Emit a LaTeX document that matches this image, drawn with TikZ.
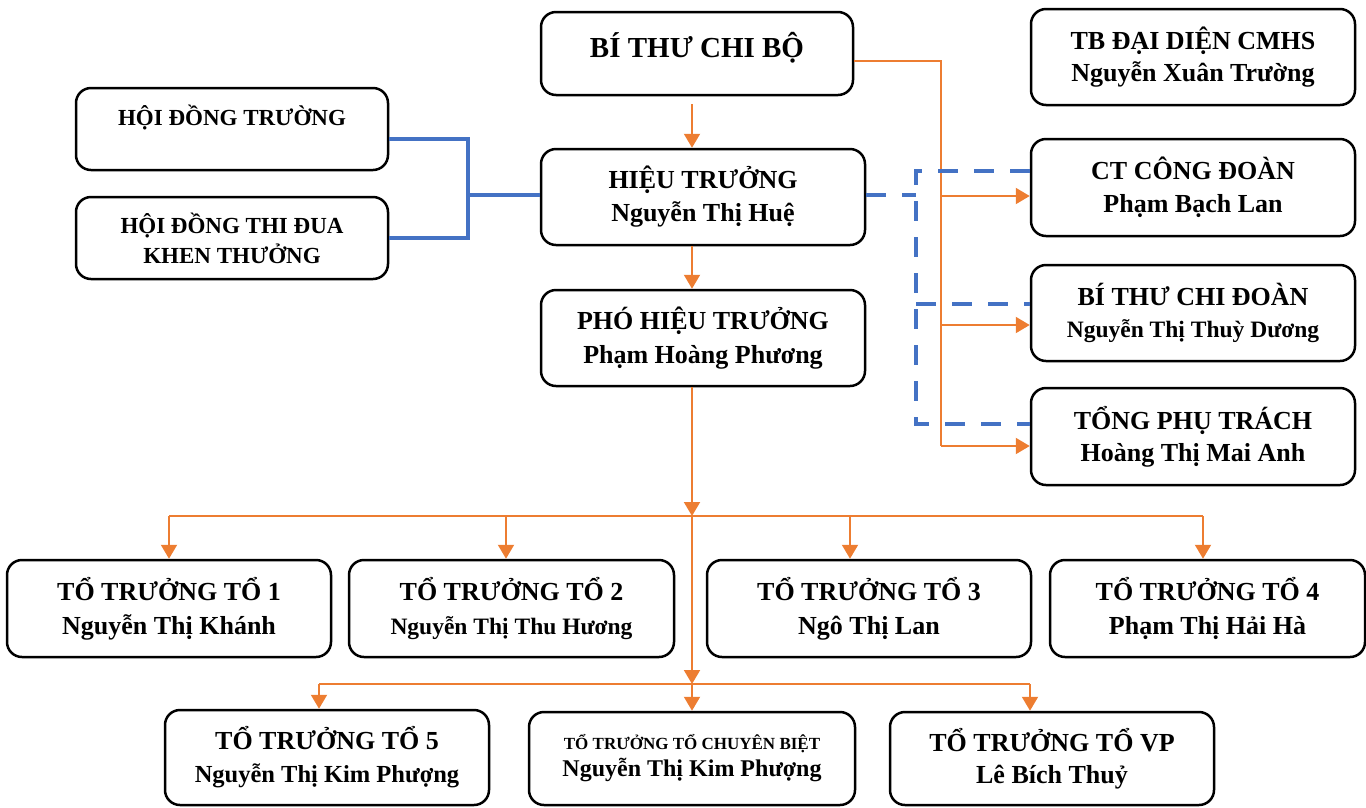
\documentclass[tikz,border=0pt]{standalone}
\usepackage{fontspec}
\setmainfont{Liberation Serif}
\usetikzlibrary{arrows.meta,calc}
\definecolor{orng}{RGB}{237,125,49}
\definecolor{blu}{RGB}{68,114,196}
\newcommand{\fz}[2]{\bfseries\fontsize{#1}{#2}\selectfont}
\tikzset{
  box/.style={draw=black, line width=2.5pt, rounded corners=15pt, fill=white, align=center, inner sep=0pt},
  oline/.style={draw=orng, line width=2pt},
  oarrow/.style={oline, -{Triangle[length=14pt,width=16pt]}},
  bline/.style={draw=blu, line width=4pt},
  bdash/.style={draw=blu, line width=4pt, dash pattern=on 20pt off 16pt},
}
\begin{document}
\begin{tikzpicture}[x=1pt,y=-1pt]
\useasboundingbox (0,0) rectangle (1366,807);
% top boxes
\node[box, minimum width=312pt, minimum height=83pt, font=\fz{29}{35}, text height=19pt, text depth=12pt] (bt) at (697,53.5) {BÍ THƯ CHI BỘ};
\node[box, minimum width=312pt, minimum height=82pt, font=\fz{23}{28}, text height=15pt, text depth=22pt] (hd1) at (232,129) {HỘI ĐỒNG TRƯỜNG};
\node[box, minimum width=312pt, minimum height=82pt, font=\fz{23}{30}] (hd2) at (232,238) {HỘI ĐỒNG THI ĐUA\\KHEN THƯỞNG};
\node[box, minimum width=324pt, minimum height=96pt, font=\fz{26}{33}] (ht) at (703,197) {HIỆU TRƯỞNG\\Nguyễn Thị Huệ};
\node[box, minimum width=324pt, minimum height=96pt, font=\fz{26}{34}] (ph) at (703,338) {PHÓ HIỆU TRƯỞNG\\Phạm Hoàng Phương};
\node[box, minimum width=324pt, minimum height=96pt, font=\fz{26}{32}] (tb) at (1193,57) {TB ĐẠI DIỆN CMHS\\Nguyễn Xuân Trường};
\node[box, minimum width=324pt, minimum height=97pt, font=\fz{26}{33}] (cd) at (1193,187.5) {CT CÔNG ĐOÀN\\Phạm Bạch Lan};
\node[box, minimum width=324pt, minimum height=96pt, font=\fz{26}{32}] (cc) at (1193,313) {BÍ THƯ CHI ĐOÀN\\{\fontsize{23.5}{32}\selectfont Nguyễn Thị Thuỳ Dương}};
\node[box, minimum width=324pt, minimum height=97pt, font=\fz{26}{32}] (tp) at (1193,436.5) {TỔNG PHỤ TRÁCH\\Hoàng Thị Mai Anh};
% row 1
\node[box, minimum width=324pt, minimum height=97pt, font=\fz{26}{34}] (t1) at (169,608.5) {TỔ TRƯỞNG TỔ 1\\Nguyễn Thị Khánh};
\node[box, minimum width=325pt, minimum height=97pt, font=\fz{26}{34}] (t2) at (511.5,608.5) {TỔ TRƯỞNG TỔ 2\\{\fontsize{23.5}{34}\selectfont Nguyễn Thị Thu Hương}};
\node[box, minimum width=324pt, minimum height=97pt, font=\fz{26}{34}] (t3) at (869,608.5) {TỔ TRƯỞNG TỔ 3\\Ngô Thị Lan};
\node[box, minimum width=315pt, minimum height=97pt, font=\fz{26}{34}] (t4) at (1207.5,608.5) {TỔ TRƯỞNG TỔ 4\\Phạm Thị Hải Hà};
% row 2
\node[box, minimum width=324pt, minimum height=95pt, font=\fz{26}{33}] (t5) at (327,757.5) {TỔ TRƯỞNG TỔ 5\\{\fontsize{24.5}{33}\selectfont Nguyễn Thị Kim Phượng}};
\node[box, minimum width=326pt, minimum height=93pt, font=\fz{17}{27}] (cb) at (692,758.5) {TỔ TRƯỞNG TỔ CHUYÊN BIỆT\\{\fontsize{24}{27}\selectfont Nguyễn Thị Kim Phượng}};
\node[box, minimum width=324pt, minimum height=93pt, font=\fz{26}{32}] (vp) at (1052,758.5) {TỔ TRƯỞNG TỔ VP\\Lê Bích Thuỷ};
% coordinates
\coordinate (ax) at (692,104);
\coordinate (j1) at (692,516);
\coordinate (j2) at (692,684);
\coordinate (tr) at (941,0);
\coordinate (jb) at (468,0);
\coordinate (jd) at (916,0);
% orange right trunk
\draw[oline] ([yshift=-7.5pt]bt.east) -| (tr |- 0,446);
\draw[oarrow] (tr |- 0,196) -- (cd.west |- 0,196);
\draw[oarrow] (tr |- 0,325) -- (cc.west |- 0,325);
\draw[oarrow] (tr |- 0,446) -- (tp.west |- 0,446);
% orange main column
\draw[oarrow] (ax) -- (ax |- ht.north);
\draw[oarrow] (ax |- ht.south) -- (ax |- ph.north);
\draw[oarrow] (ax |- ph.south) -- (j1);
\draw[oline] (j1 -| t1.north) -- (j1 -| 1203,0);
\draw[oarrow] (j1 -| t1.north) -- (t1.north);
\draw[oarrow] (j1 -| 506,0) -- (506,0 |- t2.north);
\draw[oarrow] (j1 -| 850,0) -- (850,0 |- t3.north);
\draw[oarrow] (j1 -| 1203,0) -- (1203,0 |- t4.north);
\draw[oarrow] (j1) -- (j2);
\draw[oline] (j2 -| 319,0) -- (j2 -| 1030,0);
\draw[oarrow] (j2 -| 319,0) -- (319,0 |- t5.north);
\draw[oarrow] (j2) -- (cb.north);
\draw[oarrow] (j2 -| 1030,0) -- (1030,0 |- vp.north);
% blue solid
\draw[bline] ([yshift=-10pt]hd1.east) -| (jb |- hd2.east) -- (hd2.east);
\draw[bline] (jb |- 0,195) -- (ht.west |- 0,195);
% blue dashed
\draw[bdash] (ht.east |- 0,195) -- (jd |- 0,195);
\draw[bdash] (cd.west |- 0,171) -| (jd |- 0,424) -- (tp.west |- 0,424);
\draw[bdash] (jd |- 0,304) -- (cc.west |- 0,304);
\end{tikzpicture}
\end{document}
